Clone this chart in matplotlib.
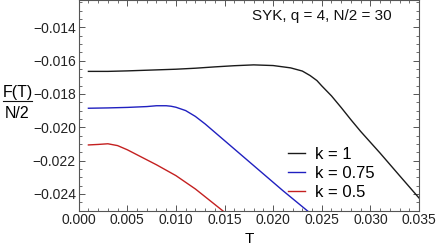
import matplotlib
matplotlib.use("Agg")
import matplotlib.pyplot as plt
from matplotlib.ticker import MultipleLocator, FuncFormatter
from matplotlib.lines import Line2D

plt.rcParams['font.family'] = ['Liberation Sans', 'DejaVu Sans']

T_k1 = [0.001, 0.003, 0.005, 0.008, 0.010, 0.012, 0.014, 0.016, 0.018, 0.020,
        0.0218, 0.023, 0.0238, 0.0245, 0.025, 0.026, 0.027, 0.028, 0.029,
        0.031, 0.033, 0.035]
F_k1 = [-0.01665, -0.01665, -0.01662, -0.01656, -0.01652, -0.01646, -0.01638,
        -0.01631, -0.01626, -0.01630, -0.01644, -0.01663, -0.01690, -0.01720,
        -0.01752, -0.01812, -0.01882, -0.01955, -0.02025, -0.02155, -0.02290,
        -0.02424]

T_k075 = [0.001, 0.003, 0.005, 0.007, 0.008, 0.009, 0.0095, 0.010, 0.011,
          0.012, 0.013, 0.015, 0.017, 0.019, 0.021, 0.0235, 0.025]
F_k075 = [-0.01886, -0.01884, -0.01881, -0.01876, -0.01871, -0.01871, -0.01874,
          -0.01880, -0.01900, -0.01935, -0.01980, -0.02080, -0.02180, -0.02280,
          -0.02380, -0.02500, -0.02570]

T_k05 = [0.001, 0.002, 0.003, 0.004, 0.005, 0.0065, 0.008, 0.010, 0.012,
         0.0148, 0.016]
F_k05 = [-0.02106, -0.02103, -0.02099, -0.02110, -0.02135, -0.02180, -0.02225,
         -0.02290, -0.02370, -0.02500, -0.02560]

labels = ['k = 1', 'k = 0.75', 'k = 0.5']
colors = ['#1a1a1a', '#2020c0', '#c42020']

fig = plt.figure(figsize=(4.36, 2.49), dpi=100)
ax = fig.add_axes([0.1805, 0.154, 0.7805, 0.844])

ax.plot(T_k1, F_k1, color=colors[0], lw=1.0, label=labels[0])
ax.plot(T_k075, F_k075, color=colors[1], lw=1.0, label=labels[1])
ax.plot(T_k05, F_k05, color=colors[2], lw=1.0, label=labels[2])

ax.set_xlim(0.0, 0.035)
ax.set_ylim(-0.0250, -0.0124)
ax.xaxis.set_major_locator(MultipleLocator(0.005))
ax.xaxis.set_minor_locator(MultipleLocator(0.001))
ax.yaxis.set_major_locator(MultipleLocator(0.002))
ax.yaxis.set_minor_locator(MultipleLocator(0.0005))
ax.xaxis.set_major_formatter(FuncFormatter(lambda v, p: f"{v:.3f}".replace('-', '\u2212')))
ax.yaxis.set_major_formatter(FuncFormatter(lambda v, p: f"{v:.3f}".replace('-', '\u2212')))

spine_c = '#555555'
for s in ax.spines.values():
    s.set_color(spine_c)
    s.set_linewidth(0.8)
ax.tick_params(which='both', direction='in', top=True, right=True, colors=spine_c,
               labelcolor='#222222', labelsize=10, pad=2)
ax.tick_params(which='major', length=4, width=0.7)
ax.tick_params(which='minor', length=2, width=0.6)

ax.text(0.921, 0.924, 'SYK, q = 4, N/2 = 30', transform=ax.transAxes,
        ha='right', va='center', fontsize=11, color='#111111')

ax.set_xlabel('T', fontsize=11, labelpad=3)

# fraction y-label
fig.text(17.5/436, 1 - 93/249, 'F(T)', ha='center', va='center', fontsize=11.5)
fig.text(17.5/436, 1 - 113/249, 'N/2', ha='center', va='center', fontsize=11.5)
fig.add_artist(Line2D([3/436, 32/436], [1 - 100.5/249, 1 - 100.5/249],
                      transform=fig.transFigure, color='#111111', lw=0.8))

ax.legend(loc='upper left', bbox_to_anchor=(0.616, 0.305), frameon=False,
          fontsize=12, handlelength=1.0, handletextpad=0.6, labelspacing=0.25,
          borderaxespad=0, borderpad=0)

fig.savefig('out.png', dpi=100)
